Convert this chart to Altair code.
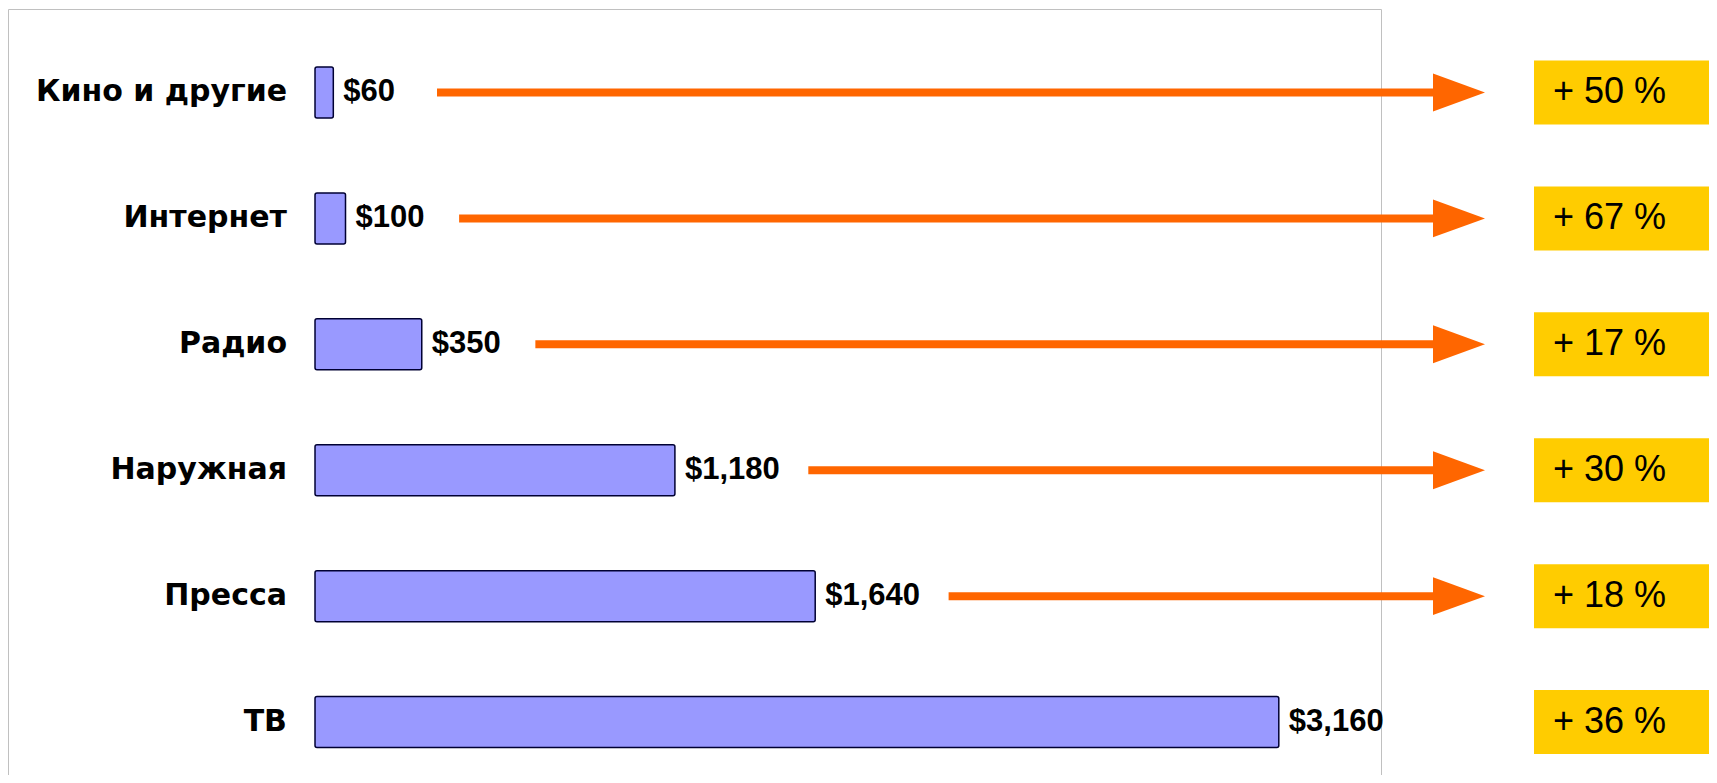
import altair as alt
import pandas as pd

# ---- data ----
categories = ["Кино и другие", "Интернет", "Радио", "Наружная", "Пресса", "ТВ"]
values = [60, 100, 350, 1180, 1640, 3160]
value_labels = ["$60", "$100", "$350", "$1,180", "$1,640", "$3,160"]
growth_labels = ["+ 50 %", "+ 67 %", "+ 17 %", "+ 30 %", "+ 18 %", "+ 36 %"]
has_arrow = [True, True, True, True, True, False]

df = pd.DataFrame({
    "category": categories,
    "value": values,
    "vlabel": value_labels,
    "growth": growth_labels,
    "arrow": has_arrow,
})

FONT = "Liberation Sans"
W, H = 1701, 767

X_SCALE = alt.Scale(domain=[-1006.6, 4570.5], nice=False, zero=False)
Y_SCALE = alt.Scale(domain=categories, range=[21.5, 777])

base = alt.Chart(df)
Y = alt.Y("category:N", scale=Y_SCALE, axis=None)

frame = alt.Chart(pd.DataFrame({"f": [1]})).mark_rect(
    fill="transparent", stroke="#c0c0c0", strokeWidth=1
).encode(
    x=alt.value(0.5), x2=alt.value(1373.5), y=alt.value(1.5), y2=alt.value(773)
)

bars = base.mark_bar(
    height=51, fill="#9999FF", stroke="#000033", strokeWidth=1.5, cornerRadius=2
).encode(
    x=alt.X("value:Q", scale=X_SCALE, axis=None),
    x2=alt.datum(0),
    y=Y,
)

value_text = base.mark_text(
    align="left", baseline="middle", dx=10, font=FONT, fontWeight="bold",
    fontSize=31, color="black"
).encode(
    x=alt.X("value:Q", scale=X_SCALE, axis=None),
    y=Y,
    text="vlabel:N",
)

cat_text = base.mark_text(
    align="right", baseline="middle", font="DejaVu Sans", fontWeight="bold",
    fontSize=30, color="black"
).encode(
    x=alt.value(279),
    y=Y,
    text="category:N",
)

arrows = base.transform_filter("datum.arrow").transform_calculate(
    start="datum.value + (length(datum.vlabel) * 9.9 + 74) / 0.305"
).mark_rule(color="#FF6600", strokeWidth=8).encode(
    x=alt.X("start:Q", scale=X_SCALE, axis=None),
    x2=alt.value(1432),
    y=Y,
)

heads = base.transform_filter("datum.arrow").mark_point(
    shape="M -1 -0.73 L 1 0 L -1 0.73 Z", size=2704, filled=True,
    color="#FF6600", opacity=1, strokeWidth=0
).encode(
    x=alt.value(1451),
    y=Y,
)

boxes = base.mark_bar(height=64, color="#FFCC00").encode(
    x=alt.value(1526), x2=alt.value(1720), y=Y
)

growth_text = base.mark_text(
    align="left", baseline="middle", font=FONT, fontSize=36, color="black"
).encode(
    x=alt.value(1545),
    y=Y,
    text="growth:N",
)

chart = alt.layer(
    frame, bars, value_text, cat_text, arrows, heads, boxes, growth_text
).properties(
    width=W, height=H, padding=0, autosize="none"
).configure_view(strokeWidth=0)

chart.save("out.html", embed_options={"renderer": "svg", "actions": False})
